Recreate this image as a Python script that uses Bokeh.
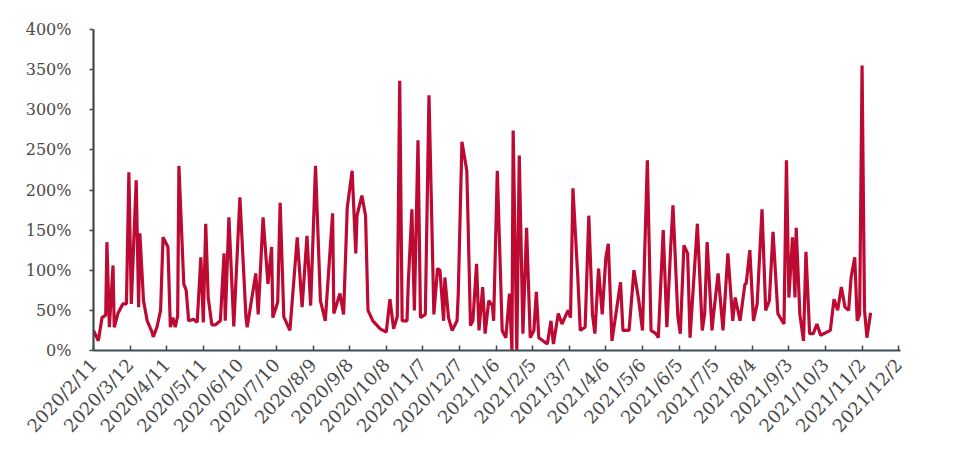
import pandas as pd
from bokeh.plotting import figure
from bokeh.models import Range1d, FixedTicker
from bokeh.embed import file_html
from bokeh.resources import INLINE

# Daily ratio series (%), keyed by days since the first observation
START = "2020-02-11"
days = [0, 4, 7, 10, 11, 13, 16, 17, 20, 24, 27, 29, 31, 35, 37, 38, 41, 44, 48, 49,
        52, 55, 57, 61, 63, 65, 67, 69, 70, 74, 76, 78, 82, 85, 88, 90, 92, 94, 97, 100,
        104, 107, 108, 111, 115, 120, 125, 126, 133, 135, 139, 143, 146, 147, 151, 153, 156, 161, 167, 171,
        175, 178, 182, 186, 190, 196, 197, 202, 205, 208, 212, 215, 216, 220, 223, 225, 229, 235, 240, 243,
        246, 249, 251, 253, 257, 258, 261, 263, 266, 268, 272, 275, 279, 282, 284, 287, 288, 291, 294, 298,
        299, 302, 306, 307, 309, 311, 314, 316, 319, 321, 324, 327, 328, 331, 335, 338, 341, 343, 344, 347,
        349, 352, 355, 358, 361, 363, 365, 372, 375, 377, 381, 384, 389, 391, 393, 397, 399, 403, 406, 409,
        411, 414, 417, 420, 422, 425, 432, 434, 439, 443, 447, 450, 454, 457, 461, 463, 467, 470, 473, 475,
        479, 481, 484, 487, 489, 495, 499, 501, 503, 507, 508, 512, 516, 520, 524, 526, 530, 534, 535, 538,
        541, 544, 548, 551, 554, 557, 561, 566, 568, 570, 573, 575, 576, 579, 582, 584, 587, 590, 593, 596,
        604, 607, 610, 613, 616, 619, 621, 624, 626, 628, 630, 632, 634, 637]
values = [25, 12, 41, 44, 135, 29, 106, 29, 46, 58, 58, 222, 58, 212, 54, 146, 62, 37, 23, 17,
          29, 50, 141, 129, 29, 41, 29, 43, 230, 83, 75, 37, 39, 35, 116, 35, 158, 66, 32, 32,
          37, 121, 37, 166, 30, 191, 41, 29, 96, 45, 166, 83, 129, 41, 60, 184, 42, 25, 141, 54,
          143, 56, 230, 62, 37, 171, 46, 71, 45, 178, 224, 121, 168, 193, 168, 50, 37, 27, 23, 64,
          27, 42, 336, 37, 37, 83, 176, 50, 262, 41, 45, 318, 45, 102, 100, 37, 91, 41, 25, 37,
          71, 260, 224, 162, 31, 37, 108, 25, 79, 21, 62, 56, 37, 224, 25, 16, 71, 0, 274, 0,
          243, 21, 153, 16, 25, 73, 16, 8, 37, 8, 46, 33, 50, 41, 202, 91, 25, 29, 168, 45,
          21, 102, 45, 116, 133, 12, 85, 25, 25, 100, 62, 25, 237, 25, 21, 16, 150, 29, 125, 181,
          42, 21, 131, 121, 16, 158, 25, 46, 135, 25, 41, 96, 25, 121, 37, 66, 37, 83, 83, 125,
          37, 58, 176, 50, 62, 148, 46, 33, 237, 66, 141, 66, 153, 45, 12, 123, 21, 21, 33, 19,
          25, 64, 50, 79, 54, 50, 91, 116, 37, 45, 355, 50, 16, 47]

# Axis ticks
x_tick_labels = ["2020/2/11", "2020/3/12", "2020/4/11", "2020/5/11", "2020/6/10", "2020/7/10",
                 "2020/8/9", "2020/9/8", "2020/10/8", "2020/11/7", "2020/12/7", "2021/1/6",
                 "2021/2/5", "2021/3/7", "2021/4/6", "2021/5/6", "2021/6/5", "2021/7/5",
                 "2021/8/4", "2021/9/3", "2021/10/3", "2021/11/2", "2021/12/2"]
y_ticks = [0, 50, 100, 150, 200, 250, 300, 350, 400]

start = pd.Timestamp(START)
x_tick_pos = [int((pd.Timestamp(s.replace("/", "-")) - start).days) for s in x_tick_labels]

p = figure(width=957, height=457, output_backend="svg", toolbar_location=None,
           x_range=Range1d(0, 661.5), y_range=Range1d(0, 400),
           min_border_left=93, min_border_right=57, min_border_top=29, min_border_bottom=107)
p.outline_line_color = None
p.xgrid.visible = False
p.ygrid.visible = False
p.background_fill_color = "white"
p.border_fill_color = "white"

p.line(days, values, line_color="#BD0A33", line_width=3.2)

axis_color = "#3E4A52"
label_font = "DejaVu Serif"

p.xaxis.ticker = FixedTicker(ticks=x_tick_pos)
p.xaxis.major_label_overrides = {pos: lab for pos, lab in zip(x_tick_pos, x_tick_labels)}
p.xaxis.major_label_orientation = 0.82
p.xaxis.major_label_standoff = 11
p.xaxis.major_tick_in = 5
p.xaxis.major_tick_out = 0
p.xaxis.minor_tick_line_color = None

p.yaxis.ticker = FixedTicker(ticks=y_ticks)
p.yaxis.major_label_overrides = {v: f"{v}%" for v in y_ticks}
p.yaxis.major_label_standoff = 18
p.yaxis.major_tick_in = 0
p.yaxis.major_tick_out = 4
p.yaxis.minor_tick_line_color = None

for ax in (p.xaxis, p.yaxis):
    ax.axis_line_color = axis_color
    ax.axis_line_width = 2.2
    ax.major_tick_line_color = axis_color
    ax.major_tick_line_width = 1.5
    ax.major_label_text_font = label_font
    ax.major_label_text_color = "#4A4A4A"
p.xaxis.major_label_text_font_size = "18px"
p.yaxis.major_label_text_font_size = "16px"

open("out.html", "w").write(file_html(p, INLINE))
